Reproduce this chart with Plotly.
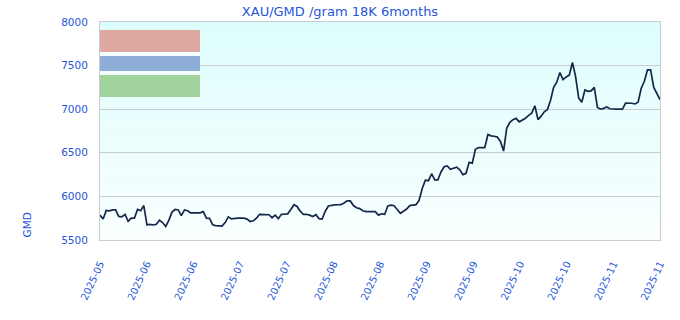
import plotly.graph_objects as go

values = [
    5785, 5740, 5840, 5835, 5845, 5845, 5770, 5765, 5795, 5715,
    5750, 5750, 5850, 5835, 5895, 5675, 5680, 5672, 5680, 5728,
    5700, 5655, 5725, 5820, 5850, 5845, 5780, 5845, 5835, 5810,
    5810, 5810, 5812, 5825, 5750, 5748, 5675, 5665, 5662, 5660,
    5700, 5765, 5742, 5750, 5750, 5750, 5750, 5740, 5712, 5720,
    5750, 5795, 5795, 5795, 5790, 5755, 5785, 5745, 5795, 5797,
    5800, 5850, 5905, 5885, 5830, 5795, 5795, 5785, 5770, 5790,
    5745, 5740, 5830, 5890, 5900, 5902, 5904, 5905, 5925, 5950,
    5948, 5895, 5870, 5860, 5835, 5825, 5825, 5825, 5825, 5785,
    5800, 5795, 5890, 5900, 5893, 5850, 5806, 5830, 5855, 5895,
    5900, 5905, 5955, 6090, 6185, 6180, 6260, 6190, 6190, 6280,
    6340, 6350, 6310, 6320, 6335, 6305, 6250, 6265, 6390, 6380,
    6540, 6560, 6560, 6560, 6710, 6695, 6690, 6680, 6630, 6520,
    6780, 6850, 6880, 6895, 6855, 6875, 6895, 6930, 6955, 7040,
    6880, 6920, 6970, 6995, 7100, 7250, 7310, 7420, 7340, 7370,
    7390, 7535, 7380, 7130, 7080, 7220, 7205, 7210, 7250, 7020,
    7000, 7010, 7025, 7005, 7000, 7000, 7000, 7000, 7070, 7070,
    7068, 7060, 7080, 7240, 7320, 7450, 7450, 7250, 7180, 7110,
]
tick_labels = ["2025-05", "2025-06", "2025-06", "2025-07", "2025-07", "2025-08",
               "2025-08", "2025-09", "2025-09", "2025-10", "2025-10", "2025-11", "2025-11"]
legend_colors = ["#dfa8a0", "#8eaed8", "#a0d49c"]

x = list(range(len(values)))
n = len(values)
tick_vals = [round(i * (n - 1) / (len(tick_labels) - 1), 3) for i in range(len(tick_labels))]

blue = "#1f56d8"
font = "DejaVu Sans, Verdana, sans-serif"

fig = go.Figure()
fig.add_trace(go.Scatter(x=x, y=values, mode="lines",
                         line=dict(color="#14284a", width=1.7), hoverinfo="skip",
                         showlegend=False))

shapes = []
# gradient background bands
nb = 40
top = (220, 253, 253)
bot = (250, 255, 255)
for k in range(nb):
    t = k / (nb - 1)
    c = tuple(round(top[j] + (bot[j] - top[j]) * t) for j in range(3))
    shapes.append(dict(type="rect", xref="paper", yref="paper",
                       x0=0, x1=1, y0=1 - (k + 1) / nb, y1=1 - k / nb,
                       fillcolor="rgb(%d,%d,%d)" % c, line=dict(width=0), layer="below"))

# legend boxes (paper coords: plot spans x 100..660, y 22..240)
def px_to_paper_x(px):
    return (px - 100) / 560
def py_to_paper_y(py):
    return (240 - py) / 218

boxes = [(30, 52), (56, 71), (75, 97)]
shapes.append(dict(type="rect", xref="paper", yref="paper",
                   x0=px_to_paper_x(100), x1=px_to_paper_x(200),
                   y0=py_to_paper_y(97), y1=py_to_paper_y(30),
                   fillcolor="rgba(255,255,255,0.6)", line=dict(width=0)))
for (y0, y1), col in zip(boxes, legend_colors):
    shapes.append(dict(type="rect", xref="paper", yref="paper",
                       x0=px_to_paper_x(100), x1=px_to_paper_x(200),
                       y0=py_to_paper_y(y1), y1=py_to_paper_y(y0),
                       fillcolor=col, line=dict(width=0)))

fig.update_layout(
    width=680, height=320,
    margin=dict(l=100, r=20, t=22, b=80),
    paper_bgcolor="white",
    plot_bgcolor="rgba(0,0,0,0)",
    shapes=shapes,
    title=dict(text="XAU/GMD /gram 18K 6months", x=0.5, xanchor="center",
               y=1 - 11 / 320, yanchor="middle",
               font=dict(family=font, size=13, color=blue)),
    xaxis=dict(range=[0, n - 1], tickmode="array", tickvals=tick_vals, ticktext=tick_labels,
               tickangle=-65, tickfont=dict(family=font, size=10, color=blue),
               showgrid=False, zeroline=False, showline=True, linecolor="#cccccc",
               mirror=True, ticks="", ticklabelstandoff=13),
    yaxis=dict(range=[5500, 8000], dtick=500, tickfont=dict(family=font, size=10.5, color=blue),
               showgrid=True, gridcolor="#cccccc", zeroline=False, showline=True,
               linecolor="#cccccc", mirror=True, ticks="", ticklabelstandoff=9),
    annotations=[dict(text="GMD", xref="paper", yref="paper", x=-0.131, y=0.07,
                      xanchor="center", yanchor="middle", textangle=-90, showarrow=False,
                      font=dict(family=font, size=10.5, color=blue))],
)

fig.write_html("out.html")
